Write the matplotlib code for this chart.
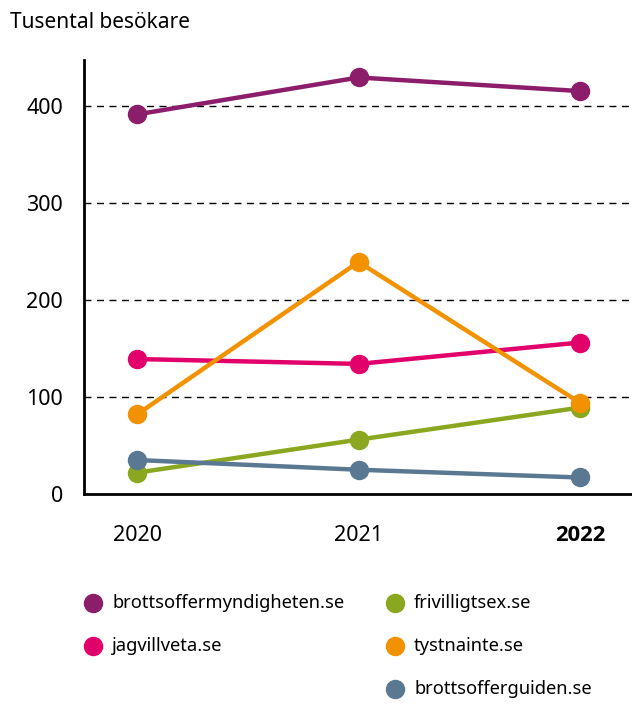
import matplotlib
matplotlib.use("Agg")
import matplotlib.pyplot as plt

years = ["2020", "2021", "2022"]
series_names = ["brottsoffermyndigheten.se", "jagvillveta.se", "frivilligtsex.se",
                "tystnainte.se", "brottsofferguiden.se"]
brottsoffermyndigheten = [391, 429, 415]
jagvillveta = [139, 134, 156]
frivilligtsex = [22, 56, 89]
tystnainte = [82, 239, 94]
brottsofferguiden = [35, 25, 17]
values = [brottsoffermyndigheten, jagvillveta, frivilligtsex, tystnainte, brottsofferguiden]
colors = ["#8C1D6B", "#E2006B", "#8BA71F", "#F39200", "#5B7892"]
yticks = [0, 100, 200, 300, 400]

plt.rcParams['font.family'] = ['Noto Sans', 'DejaVu Sans']

W, H = 632, 704
fig = plt.figure(figsize=(W / 100, H / 100), dpi=100)
ax = fig.add_axes([84 / W, 1 - 494 / H, (W - 84) / W, (494 - 60) / H])

x = list(range(len(years)))
for vals, c in zip(values, colors):
    ax.plot(x, vals, color=c, lw=3.2, marker='o', ms=13, zorder=3,
            solid_capstyle='round')

ax.set_xlim(-0.24, 2.235)
ax.set_ylim(0, 447)
ax.set_yticks(yticks)
ax.set_yticklabels([str(v) for v in yticks], fontsize=15.5)
ax.set_xticks(x)
ax.set_xticklabels(years, fontsize=15.5)
ax.tick_params(axis='y', length=0, pad=15)
ax.tick_params(axis='x', length=0, pad=22)
for v in yticks[1:]:
    ax.axhline(v, color='black', lw=1, ls=(0, (5, 4)), zorder=1)
for s in ['top', 'right']:
    ax.spines[s].set_visible(False)
ax.spines['left'].set_linewidth(2)
ax.spines['bottom'].set_linewidth(2)

fig.text(10 / W, 1 - 23 / H, "Tusental besökare", fontsize=15, va='center', ha='left')

# legend
lax = fig.add_axes([0, 0, 1, 1])
lax.set_xlim(0, W)
lax.set_ylim(H, 0)
lax.axis('off')
pos = [(93, 603), (93, 646), (395, 603), (395, 646), (395, 689)]
for (px, py), name, c in zip(pos, series_names, colors):
    lax.plot([px], [py], marker='o', ms=13, color=c, ls='none')
    lax.text(px + 19, py, name, fontsize=13.2, va='center', ha='left')

fig.canvas.draw()
lbl = ax.xaxis.get_major_ticks()[-1].label1
lbl.set_fontfamily(['Open Sans', 'DejaVu Sans'])
lbl.set_fontweight('bold')
lbl.set_fontsize(15.8)

fig.savefig("out.png", dpi=100)
